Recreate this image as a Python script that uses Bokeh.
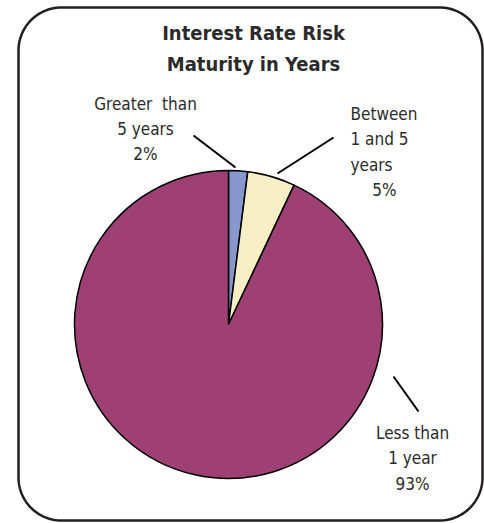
import numpy as np
from bokeh.plotting import figure
from bokeh.models import Range1d
from bokeh.core.properties import value
from bokeh.embed import file_html
from bokeh.resources import INLINE

# ---- data ----
categories = ["Greater than 5 years", "Between 1 and 5 years", "Less than 1 year"]
shares = [2, 5, 93]
colors = ["#8898cd", "#f6efc6", "#9e4073"]
label_lines = [["Greater\u00a0 than", "5 years", "2%"],
               ["Between", "1 and 5", "years", "5%"],
               ["Less than", "1 year", "93%"]]
title_lines = ["Interest Rate Risk", "Maturity in Years"]

W, H = 484, 523
FONT = "DejaVu Sans Condensed"
TXT = "#2b2b2b"

p = figure(width=W, height=H, output_backend="svg", toolbar_location=None,
           x_range=Range1d(0, W), y_range=Range1d(0, H), min_border=0)
p.axis.visible = False
p.grid.visible = False
p.outline_line_color = None
p.background_fill_color = "white"
p.border_fill_color = "white"

def Y(py):
    return H - py

# rounded border
x0, x1, y0, y1, r = 18, 482, 7, 520, 43
pts = []
for cx, cy, a0 in [(x1 - r, y0 + r, -90), (x1 - r, y1 - r, 0), (x0 + r, y1 - r, 90), (x0 + r, y0 + r, 180)]:
    a = np.radians(np.linspace(a0, a0 + 90, 30))
    pts += list(zip(cx + r * np.cos(a), cy + r * np.sin(a)))
pts.append(pts[0])
p.line([q[0] for q in pts], [Y(q[1]) for q in pts], line_color="#231f20", line_width=2.5)

# pie
cx, cy, R = 228, Y(324), 154
total = sum(shares)
cum = np.cumsum([0] + shares) / total
starts = [np.pi / 2 - 2 * np.pi * cum[i + 1] for i in range(len(shares))]
ends = [np.pi / 2 - 2 * np.pi * cum[i] for i in range(len(shares))]
p.wedge(x=cx, y=cy, radius=R, start_angle=starts, end_angle=ends,
        fill_color=colors, line_color="black", line_width=1.5)

# leader lines
p.segment(x0=[193, 333, 393], y0=[Y(135), Y(137), Y(376)],
          x1=[235, 277, 418], y1=[Y(167), Y(173), Y(411)],
          line_color="black", line_width=2)

# title
for i, t in enumerate(title_lines):
    p.text(x=[253], y=[Y(32 + 31 * i)], text=[t], text_font=value(FONT),
           text_font_style="bold", text_font_size="20px", text_color=TXT,
           text_align="center", text_baseline="middle")

# labels
def lab(x, ys, lines, align):
    for yy, t in zip(ys, lines):
        p.text(x=[x], y=[Y(yy)], text=[t], text_font=value(FONT),
               text_font_size="17px", text_color=TXT,
               text_align=align, text_baseline="middle")

lab(145, [103, 128, 153], label_lines[0], "center")
lab(350, [113, 138, 164], label_lines[1][:3], "left")
lab(384, [189], label_lines[1][3:], "center")
lab(412, [432, 457, 483], label_lines[2], "center")

open("out.html", "w").write(file_html(p, INLINE))
